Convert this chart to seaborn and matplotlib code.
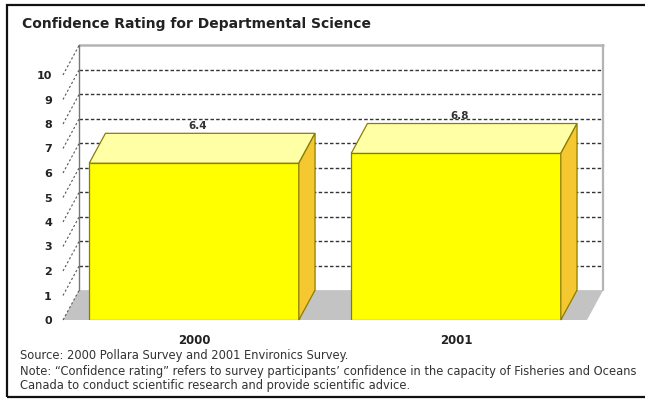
import numpy as np
import pandas as pd
import matplotlib
matplotlib.use("Agg")
import matplotlib.pyplot as plt
import seaborn as sns
from matplotlib.patches import Polygon, Rectangle

# ---------------------------------------------------
# DATA
# ---------------------------------------------------

years = ["2000", "2001"]
ratings = [6.4, 6.8]
rating_labels = ["6.4", "6.8"]
y_ticks = [0, 1, 2, 3, 4, 5, 6, 7, 8, 9, 10]

title = "Confidence Rating for Departmental Science"
notes = [
    "Source: 2000 Pollara Survey and 2001 Environics Survey.",
    "Note: \u201cConfidence rating\u201d refers to survey participants\u2019 confidence in the capacity of Fisheries and Oceans",
    "Canada to conduct scientific research and provide scientific advice.",
]

df = pd.DataFrame({"year": years, "rating": ratings})

# ---------------------------------------------------
# STYLE
# ---------------------------------------------------

sns.set_theme(style="white")
plt.rcParams["font.family"] = ["DejaVu Sans"]

FRONT = "#ffff00"
TOP = "#ffffa6"
SIDE = "#f5c832"
EDGE = "#8c7d00"
FLOOR = "#c3c3c3"
WALL = "#b4b4b4"
GRID = "#333333"

# depth of the fake 3d box, in data units
dx = 0.062
dy = 1.22

fig = plt.figure(figsize=(6.45, 4.01), dpi=100)
ax = fig.add_axes([63 / 645, (401 - 320) / 401, 524 / 645, 294 / 401])

# ---------------------------------------------------
# BARS (front faces)
# ---------------------------------------------------

sns.barplot(
    data=df,
    x="year",
    y="rating",
    color=FRONT,
    saturation=1,
    width=0.8,
    edgecolor=EDGE,
    linewidth=0.9,
    ax=ax,
    zorder=5
)

ax.set_xlim(-0.5, 1.5)
ax.set_ylim(0, 12)

x0, x1 = ax.get_xlim()

# ---------------------------------------------------
# BACK WALL, SIDE WALL AND FLOOR
# ---------------------------------------------------

floor = Polygon(
    [(x0, 0), (x1, 0), (x1 + dx, dy), (x0 + dx, dy)],
    closed=True, facecolor=FLOOR, edgecolor="none", zorder=1, clip_on=False
)
ax.add_patch(floor)

top = y_ticks[-1]

for v in y_ticks[1:-1]:
    ax.plot([x0 + dx, x1 + dx], [v + dy, v + dy],
            color=GRID, lw=1.0, ls=(0, (2.5, 1.6)), zorder=2, clip_on=False)

ax.plot([x0 + dx, x1 + dx], [top + dy, top + dy],
        color=WALL, lw=1.8, zorder=2, clip_on=False)
ax.plot([x0 + dx, x0 + dx], [dy, top + dy],
        color="#777777", lw=1.0, zorder=2, clip_on=False)
ax.plot([x1 + dx, x1 + dx], [dy, top + dy],
        color=WALL, lw=1.6, zorder=2, clip_on=False)

for v in y_ticks:
    ax.plot([x0, x0 + dx], [v, v + dy],
            color="#555555", lw=0.8, ls=(0, (2, 2)), zorder=2, clip_on=False)

# ---------------------------------------------------
# TOP AND SIDE FACES
# ---------------------------------------------------

for patch, label in zip(ax.patches, rating_labels):
    if not isinstance(patch, Rectangle):
        continue
    bx = patch.get_x()
    bw = patch.get_width()
    bh = patch.get_height()

    top_face = Polygon(
        [(bx, bh), (bx + bw, bh), (bx + bw + dx, bh + dy), (bx + dx, bh + dy)],
        closed=True, facecolor=TOP, edgecolor=EDGE, lw=0.9, zorder=6, clip_on=False
    )
    side_face = Polygon(
        [(bx + bw, 0), (bx + bw + dx, dy), (bx + bw + dx, bh + dy), (bx + bw, bh)],
        closed=True, facecolor=SIDE, edgecolor=EDGE, lw=0.9, zorder=6, clip_on=False
    )
    ax.add_patch(top_face)
    ax.add_patch(side_face)

    ax.text(bx + bw / 2 + dx / 5, bh + dy + 0.3, label,
            ha="center", va="center", fontsize=7.5, fontweight="bold",
            color="#333333", zorder=7)

# ---------------------------------------------------
# AXES
# ---------------------------------------------------

ax.set_yticks(y_ticks)
ax.set_yticklabels([str(t) for t in y_ticks], fontsize=8, fontweight="bold", color="#222222")
ax.tick_params(axis="y", length=0, pad=8)
ax.tick_params(axis="x", length=0, pad=10, labelsize=8.5)
for lbl in ax.get_xticklabels():
    lbl.set_fontweight("bold")
    lbl.set_color("#222222")

ax.set_xlabel("")
ax.set_ylabel("")
for s in ax.spines.values():
    s.set_visible(False)
ax.set_facecolor("none")
ax.grid(False)

# ---------------------------------------------------
# TITLE, NOTES AND FRAME
# ---------------------------------------------------

fig.text(22 / 645, 1 - 24 / 401, title, fontsize=10, fontweight="bold",
         color="#222222", va="center", ha="left")

for i, line in enumerate(notes):
    fig.text(20 / 645, 1 - (356 + i * 15) / 401, line, fontsize=8.3,
             color="#333333", va="center", ha="left")

fig.patches.append(Rectangle(
    (7 / 645, 4 / 401), 700 / 645, 392 / 401,
    transform=fig.transFigure, fill=False, edgecolor="#111111", lw=1.6
))

fig.savefig("out.png", dpi=100)
